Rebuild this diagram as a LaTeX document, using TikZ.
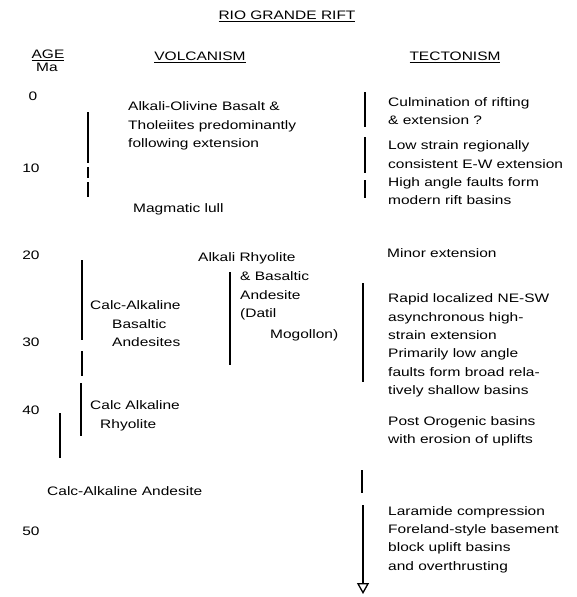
\documentclass[tikz,border=0pt]{standalone}
\usepackage{fontspec}
\setmainfont{Liberation Sans}[FakeStretch=1.26]
\usetikzlibrary{arrows.meta}
\tikzset{
  txt/.style={font=\fontsize{12.3}{18.3}\selectfont, inner sep=0pt, anchor=west, align=left},
  hdr/.style={font=\fontsize{12.3}{14}\selectfont, inner sep=0pt},
  age/.style={font=\fontsize{12.3}{14}\selectfont, inner sep=0pt},
  bar/.style={line width=1.5pt},
  endarrow/.style={line width=1.5pt, -{Triangle[open, width=12pt, length=11pt, line width=1.3pt]}}
}
\begin{document}
\begin{tikzpicture}[x=1pt,y=-1pt]
\useasboundingbox (0,0) rectangle (577,597);
% headers
\node[hdr] (title) at (287,16) {\underline{RIO GRANDE RIFT}};
\node[hdr] (ageh) at (48,55) {\underline{AGE}};
\node[hdr] (ma) at (47,67) {Ma};
\node[hdr] (volc) at (200,57) {\underline{VOLCANISM}};
\node[hdr] (tect) at (455,57) {\underline{TECTONISM}};
% ages
\node[age] (a0) at (33,96) {0};
\node[age] (a10) at (31,168) {10};
\node[age] (a20) at (31,255) {20};
\node[age] (a30) at (31,342) {30};
\node[age] (a40) at (31,410) {40};
\node[age] (a50) at (31,531) {50};
% volcanism text
\node[txt] (v1) at (128,126) {Alkali-Olivine Basalt \&\\Tholeiites predominantly\\following extension};
\node[txt] (vlull) at (133,209) {Magmatic lull};
\node[txt] (v2a) at (198,258) {Alkali Rhyolite};
\node[txt] (v2b) at (240,296) {\& Basaltic\\Andesite\\(Datil};
\node[txt] (v2c) at (270,335) {Mogollon)};
\node[txt] (v3a) at (90,305) {Calc-Alkaline};
\node[txt] (v3b) at (112,333) {Basaltic\\Andesites};
\node[txt] (v4a) at (90,405) {Calc Alkaline};
\node[txt] (v4b) at (100,425) {Rhyolite};
\node[txt] (v5) at (47,491) {Calc-Alkaline Andesite};
% volcanism bars
\draw[bar] (88,112) -- (88,163) (88,167) -- (88,178) (88,182) -- (88,197);
\draw[bar] (230,272) -- (230,365);
\draw[bar] (82,260) -- (82,340) (82,351) -- (82,376);
\draw[bar] (81,383) -- (81,436);
\draw[bar] (60,413) -- (60,458);
% tectonism text
\node[txt] (t1) at (388,111) {Culmination of rifting\\\& extension ?};
\node[txt] (t2) at (388,173) {Low strain regionally\\consistent E-W extension\\High angle faults form\\modern rift basins};
\node[txt] (t3) at (387,253) {Minor extension};
\node[txt] (t4) at (388,345.5) {Rapid localized NE-SW\\asynchronous high-\\strain extension\\Primarily low angle\\faults form broad rela-\\tively shallow basins};
\node[txt] (t5) at (388,431) {Post Orogenic basins\\with erosion of uplifts};
\node[txt] (t6) at (388,539.5) {Laramide compression\\Foreland-style basement\\block uplift basins\\and overthrusting};
% tectonism bars
\draw[bar] (365,92) -- (365,127) (365,137) -- (365,173) (365,180) -- (365,198);
\draw[bar] (363,283) -- (363,382);
\draw[bar] (362,470) -- (362,493);
\coordinate (arrS) at (363,505);
\coordinate (arrE) at (363,594);
\draw[endarrow] (arrS) -- (arrE);
\end{tikzpicture}
\end{document}
